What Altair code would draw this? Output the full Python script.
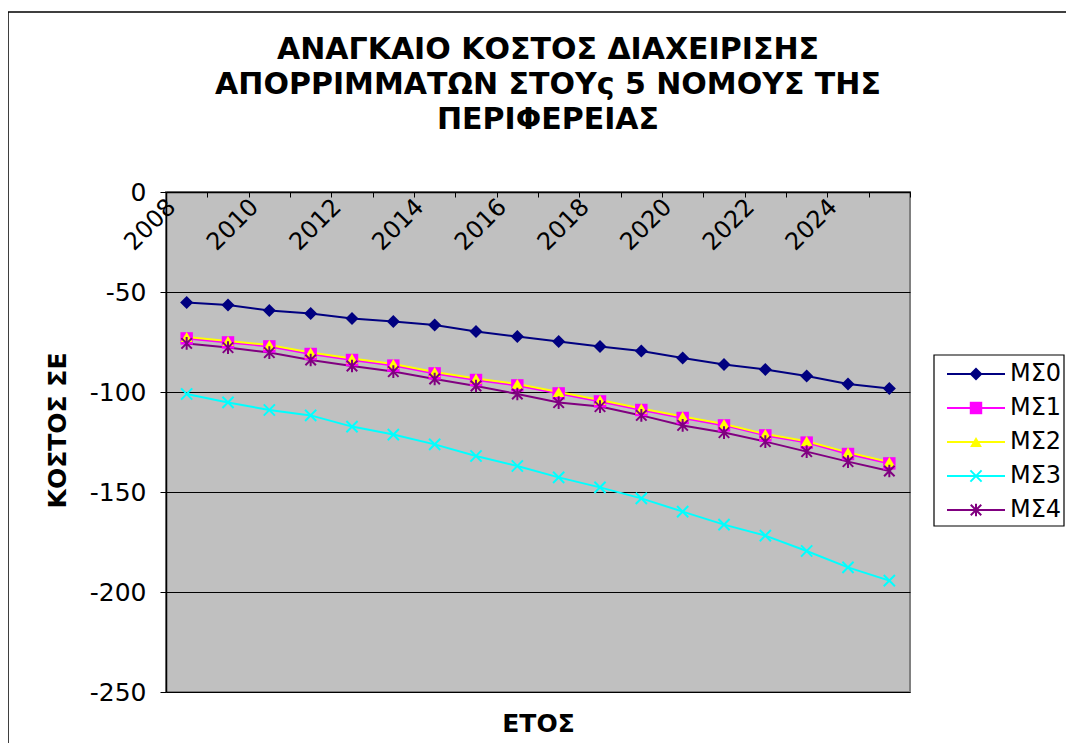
import altair as alt
import pandas as pd

YEARS = [2008, 2009, 2010, 2011, 2012, 2013, 2014, 2015, 2016, 2017,
         2018, 2019, 2020, 2021, 2022, 2023, 2024, 2025]
SERIES = ["ΜΣ0", "ΜΣ1", "ΜΣ2", "ΜΣ3", "ΜΣ4"]
MS0 = [-55.2, -56.5, -59.3, -60.8, -63.3, -64.8, -66.5, -69.8, -72.3, -74.7,
       -77.2, -79.5, -83.0, -86.2, -88.7, -92.0, -96.0, -98.3]
MS1 = [-73.2, -75.2, -77.2, -81.0, -84.0, -86.8, -90.7, -94.0, -96.7, -100.7,
       -104.7, -109.0, -113.0, -116.7, -121.7, -125.3, -131.0, -135.7]
MS2 = [-72.5, -74.5, -76.5, -80.3, -83.3, -86.0, -90.0, -93.3, -96.0, -100.0,
       -104.0, -108.3, -112.3, -116.0, -121.0, -124.6, -130.2, -135.0]
MS3 = [-101.0, -105.2, -109.0, -111.7, -117.3, -121.3, -126.2, -132.0, -137.0, -142.7,
       -147.7, -153.2, -159.8, -166.3, -171.8, -179.5, -187.7, -194.3]
MS4 = [-75.7, -77.8, -80.3, -84.0, -87.0, -89.8, -93.5, -97.0, -101.0, -105.3,
       -107.3, -111.7, -116.7, -120.3, -124.8, -129.8, -134.8, -139.5]
Y_TICKS = [0, -50, -100, -150, -200, -250]
TITLE = ["ΑΝΑΓΚΑΙΟ ΚΟΣΤΟΣ ΔΙΑΧΕΙΡΙΣΗΣ", "ΑΠΟΡΡΙΜΜΑΤΩΝ ΣΤΟΥς 5 ΝΟΜΟΥΣ ΤΗΣ", "ΠΕΡΙΦΕΡΕΙΑΣ"]
X_TITLE = "ΕΤΟΣ"
Y_TITLE = "ΚΟΣΤΟΣ ΣΕ"

COLORS = ["#000080", "#FF00FF", "#FFFF00", "#00FFFF", "#800080"]
X_PATH = "M-1,-1L1,1M-1,1L1,-1"
STAR_PATH = "M-1,-1L1,1M-1,1L1,-1M0,-1.2L0,1.2"
SHAPES = ["diamond", "square", "triangle-up", X_PATH, STAR_PATH]
SIZES = [170, 110, 140, 140, 140]
FONT = "DejaVu Sans"

rows = []
for s, vals in zip(SERIES, [MS0, MS1, MS2, MS3, MS4]):
    for yr, v in zip(YEARS, vals):
        rows.append({"series": s, "year": yr, "value": v})
df = pd.DataFrame(rows)

W, H = 744, 500

color = alt.Color("series:N", scale=alt.Scale(domain=SERIES, range=COLORS), legend=None)
shape = alt.Shape("series:N", scale=alt.Scale(domain=SERIES, range=SHAPES), legend=None)
size = alt.Size("series:N", scale=alt.Scale(domain=SERIES, range=SIZES), legend=None)

x = alt.X(
    "year:O",
    scale=alt.Scale(type="band", paddingInner=0, paddingOuter=0),
    axis=alt.Axis(
        orient="bottom", offset=-H, title=X_TITLE, titleX=W / 2, titleY=531,
        titleAlign="center", titleBaseline="middle", titleFont=FONT,
        titleFontSize=25, titleFontWeight="bold", titleColor="black",
        labelAngle=315, labelAlign="right", labelBaseline="middle",
        labelOffset=-15, labelPadding=6, labelFont=FONT, labelFontSize=24,
        labelColor="black", labelOverlap=False,
        labelExpr="datum.value % 2 == 0 ? datum.label : ''",
        tickSize=5, tickBand="extent", tickColor="black", domainColor="black",
        domainWidth=1.5, grid=False,
    ),
)
y = alt.Y(
    "value:Q",
    scale=alt.Scale(domain=[-250, 0], nice=False, zero=False),
    axis=alt.Axis(
        values=Y_TICKS, tickSize=6, tickColor="black", labelPadding=14,
        labelExpr="'' + datum.value",
        labelFont=FONT, labelFontSize=25, labelColor="black",
        domainColor="black", domainWidth=1.5,
        grid=True, gridColor="black", gridWidth=1,
        title=Y_TITLE, titleAngle=270, titleX=-109, titleY=238,
        titleAlign="center", titleBaseline="middle", titleFont=FONT,
        titleFontSize=25, titleFontWeight="bold", titleColor="black",
    ),
)

base = alt.Chart(df)
lines = base.mark_line(strokeWidth=2).encode(x=x, y=y, color=color, detail="series:N")
pts_filled = base.transform_filter(
    alt.FieldOneOfPredicate(field="series", oneOf=SERIES[:3])
).mark_point(filled=True, opacity=1).encode(x=x, y=y, color=color, shape=shape, size=size)
pts_open = base.transform_filter(
    alt.FieldOneOfPredicate(field="series", oneOf=SERIES[3:])
).mark_point(filled=False, opacity=1, strokeWidth=2).encode(x=x, y=y, color=color, shape=shape, size=size)

main = alt.layer(lines, pts_filled, pts_open)

# legend
ldf = pd.DataFrame({"series": SERIES})
ly = alt.Y("series:N", scale=alt.Scale(type="point", domain=SERIES, range=[182, 318], padding=0), axis=None)
lbase = alt.Chart(ldf)
box = alt.Chart(pd.DataFrame({"k": [0]})).mark_rect(
    fill="white", stroke="black", strokeWidth=1.2
).encode(x=alt.value(768), x2=alt.value(898), y=alt.value(163), y2=alt.value(334))
lrule = lbase.mark_rule(strokeWidth=2).encode(x=alt.value(781), x2=alt.value(839), y=ly, color=color)
lpf = lbase.transform_filter(
    alt.FieldOneOfPredicate(field="series", oneOf=SERIES[:3])
).mark_point(filled=True, opacity=1).encode(x=alt.value(810), y=ly, color=color, shape=shape, size=size)
lpo = lbase.transform_filter(
    alt.FieldOneOfPredicate(field="series", oneOf=SERIES[3:])
).mark_point(filled=False, opacity=1, strokeWidth=2).encode(x=alt.value(810), y=ly, color=color, shape=shape, size=size)
ltext = lbase.mark_text(align="left", baseline="middle", font=FONT, fontSize=24, color="black").encode(
    x=alt.value(844), y=ly, text="series:N")
legend = alt.layer(box, lrule, lpf, lpo, ltext)

border = alt.Chart(pd.DataFrame({"k": [0]})).mark_rect(
    filled=False, stroke="black", strokeWidth=1.5
).encode(x=alt.value(-158), x2=alt.value(1200), y=alt.value(-180), y2=alt.value(900))

chart = alt.layer(border, main, legend).resolve_scale(y="independent").properties(
    width=W, height=H,
    title=alt.Title(TITLE, font=FONT, fontSize=30, fontWeight="bold", color="black",
                    lineHeight=35, anchor="middle", frame="group", dx=10,
                    baseline="bottom", offset=-154),
    autosize=alt.AutoSizeParams(type="none"),
    padding={"left": 158, "top": 184, "right": 156, "bottom": 51},
    background="white",
).configure_view(fill="#C0C0C0", stroke="#808080", strokeWidth=2)

chart.save("out.html", embed_options={"renderer": "svg", "actions": False})
